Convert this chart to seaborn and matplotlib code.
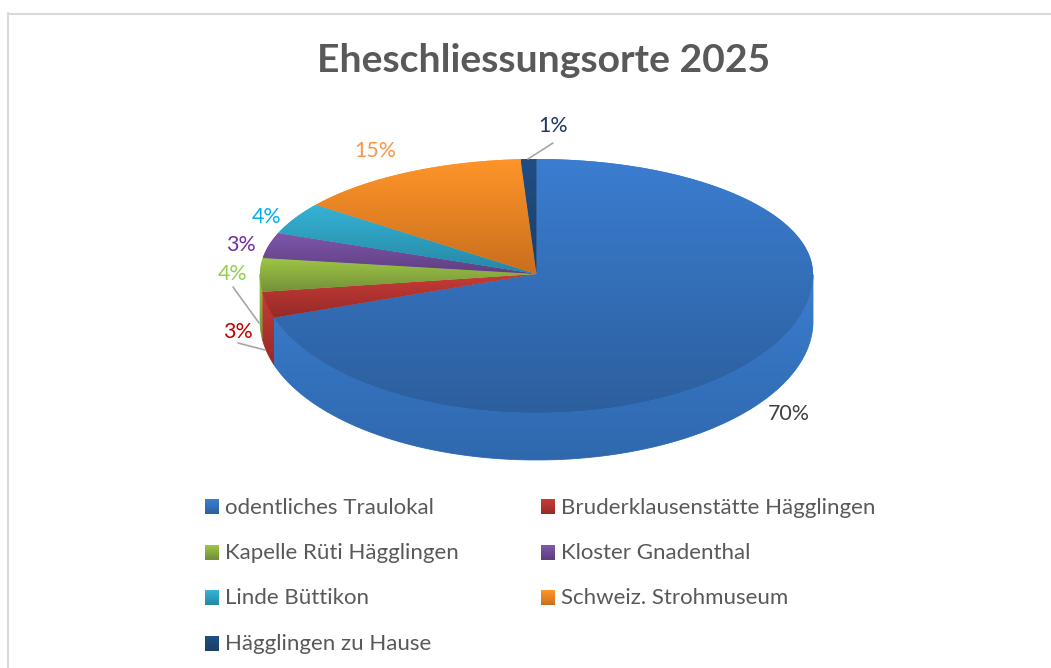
import numpy as np
import matplotlib
matplotlib.use("Agg")
import matplotlib.pyplot as plt
import seaborn as sns
from matplotlib.colors import LinearSegmentedColormap, to_rgb
from matplotlib.legend_handler import HandlerBase
from matplotlib.lines import Line2D
from matplotlib.patches import Patch, Rectangle
from matplotlib.path import Path
from matplotlib.transforms import Affine2D, Transform

categories = ["odentliches Traulokal", "Bruderklausenstätte Hägglingen",
              "Kapelle Rüti Hägglingen", "Kloster Gnadenthal", "Linde Büttikon",
              "Schweiz. Strohmuseum", "Hägglingen zu Hause"]
values = [70, 3, 4, 3, 4, 15, 1]
labels = ["70%", "3%", "4%", "3%", "4%", "15%", "1%"]
title = "Eheschliessungsorte 2025"

top_colors = ["#3b7dd0", "#c73b37", "#9dc644", "#7f57ab", "#36b3d6", "#ff952a", "#1f4e85"]
bottom_colors = ["#2c5f9e", "#952a27", "#74903a", "#5e3f80", "#2587a3", "#c96e1d", "#1a3f6a"]
label_colors = ["#404040", "#c00000", "#92d050", "#7030a0", "#00b0f0", "#f79646", "#1f3864"]
label_px = [(789, 413), (238, 331), (233, 273), (241, 244), (267, 216), (375, 150), (553, 125)]

W, H = 1051, 668
CX, CY, RX = 536.5, 274.0, 276.5
SQUASH_BACK, SQUASH_FRONT, DEPTH = 115 / RX, 139 / RX, 47 / RX
# foreshortening of angles (degrees from the far point of the disc) in the 3-D view
VIEW_TRUE = [0, 3.6, 57.6, 72, 82.8, 97.2, 108, 180]
VIEW_SEEN = [0, 3.3, 53, 69.2, 82, 97.4, 108.3, 180]

sns.set_theme(style="white")
plt.rcParams["font.family"] = ["Lato", "DejaVu Sans"]


class Tilt(Transform):
    """Tilted disc: the near half is drawn taller than the far half, far angles shrink."""
    input_dims = output_dims = 2
    is_separable = False
    has_inverse = False

    def transform_non_affine(self, xy):
        xy = np.asarray(xy, dtype=float)
        r = np.hypot(xy[:, 0], xy[:, 1])
        a = np.degrees(np.arctan2(xy[:, 0], xy[:, 1]))
        seen = np.radians(np.sign(a) * np.interp(np.abs(a), VIEW_TRUE, VIEW_SEEN))
        x, y = r * np.sin(seen), r * np.cos(seen)
        s = np.where(y >= 0, SQUASH_BACK, SQUASH_FRONT)
        return np.column_stack([x, s * y])

    def transform_path_non_affine(self, path):
        big = path.transformed(Affine2D().scale(2000))
        poly = big.to_polygons(closed_only=False)[0] / 2000
        return Path(self.transform_non_affine(poly))


tilt = Tilt()
fig = plt.figure(figsize=(W / 100, H / 100), dpi=100)
ax = fig.add_axes([0, 0, 1, 1])
wedges, _ = ax.pie(values, startangle=90, counterclock=False, radius=1, colors=top_colors)
ax.set_aspect("auto")
xlim = ((0 - CX) / RX, (W - CX) / RX)
ylim = ((CY - H) / RX, CY / RX)


def shade(path, c_top, c_bottom, zorder):
    v = path.vertices
    cmap = LinearSegmentedColormap.from_list("g", [c_top, c_bottom])
    grad = np.linspace(0, 1, 256).reshape(-1, 1)
    im = ax.imshow(grad, cmap=cmap, aspect="auto", origin="upper", zorder=zorder,
                   extent=(v[:, 0].min(), v[:, 0].max(), v[:, 1].min(), v[:, 1].max()))
    im.set_clip_path(path, transform=ax.transData)


# side walls, from the same angles as the pie wedges
for i, w in enumerate(wedges):
    th = np.radians(np.linspace(w.theta1, w.theta2, 600))
    arc = tilt.transform(np.column_stack([np.cos(th), np.sin(th)]))
    arc = arc[arc[:, 1] <= 0]
    if len(arc) < 2:
        continue
    low = arc - [0, DEPTH]
    verts = np.vstack([arc, low[::-1], arc[:1]])
    ax.fill(verts[:, 0], verts[:, 1], color=top_colors[i], lw=0.6, zorder=1)
    shade(Path(verts), top_colors[i], bottom_colors[i] if i else "#2f68ad", 1.1)

# top face
for i, w in enumerate(wedges):
    w.set_transform(tilt + ax.transData)
    w.set_zorder(2 + i * 0.01)
    w.set_linewidth(0)
    shade(tilt.transform_path(w.get_path()), top_colors[i], bottom_colors[i], 2.5 + i * 0.01)

ax.set_xlim(xlim)
ax.set_ylim(ylim)


def fx(x):
    return x / W


def fy(y):
    return 1 - y / H


# frame remnants
for xs, ys in [((8, 1051), (13.5, 13.5)), ((8, 8), (13, 668))]:
    fig.add_artist(Line2D([fx(a) for a in xs], [fy(b) for b in ys], color="#d9d9d9", lw=1.5))

fig.text(fx(544), fy(60), title, ha="center", va="center", fontsize=28.2,
         fontweight="bold", color="#595959")

for s, c, (x, y) in zip(labels, label_colors, label_px):
    fig.text(fx(x), fy(y + 1), s, ha="center", va="center", fontsize=15.4, color=c)

for (x0, y0), (x1, y1) in [((553, 143), (528, 159)), ((233, 287), (259, 323)), ((238, 343), (265, 350))]:
    fig.add_artist(Line2D([fx(x0), fx(x1)], [fy(y0), fy(y1)], color="#a6a6a6", lw=1.2, zorder=5))


class GradientHandler(HandlerBase):
    def create_artists(self, legend, orig, xd, yd, width, height, fontsize, trans):
        c0, c1 = orig.gradient
        n = 14
        out = []
        for k in range(n):
            t = k / (n - 1)
            col = tuple((1 - t) * a + t * b for a, b in zip(to_rgb(c0), to_rgb(c1)))
            r = Rectangle((-xd, -yd - 1 + height * (1 - (k + 1) / n)), width, height / n + 0.3,
                          facecolor=col, edgecolor="none", transform=trans)
            out.append(r)
        return out


handles = []
for i, c in enumerate(categories):
    h = Patch(facecolor=top_colors[i], label=c)
    h.gradient = (top_colors[i], bottom_colors[i])
    handles.append(h)
order = [0, 2, 4, 6, 1, 3, 5]
leg = ax.legend([handles[i] for i in order], [categories[i] for i in order], ncol=2,
                loc="upper left", bbox_to_anchor=(fx(205), fy(497.5)), bbox_transform=fig.transFigure,
                frameon=False, fontsize=16, labelcolor="#595959", borderpad=0, borderaxespad=0,
                handlelength=0.63, handleheight=0.63, handletextpad=0.27, labelspacing=1.145,
                columnspacing=3.72, handler_map={Patch: GradientHandler()})

fig.savefig("out.png", dpi=100)
